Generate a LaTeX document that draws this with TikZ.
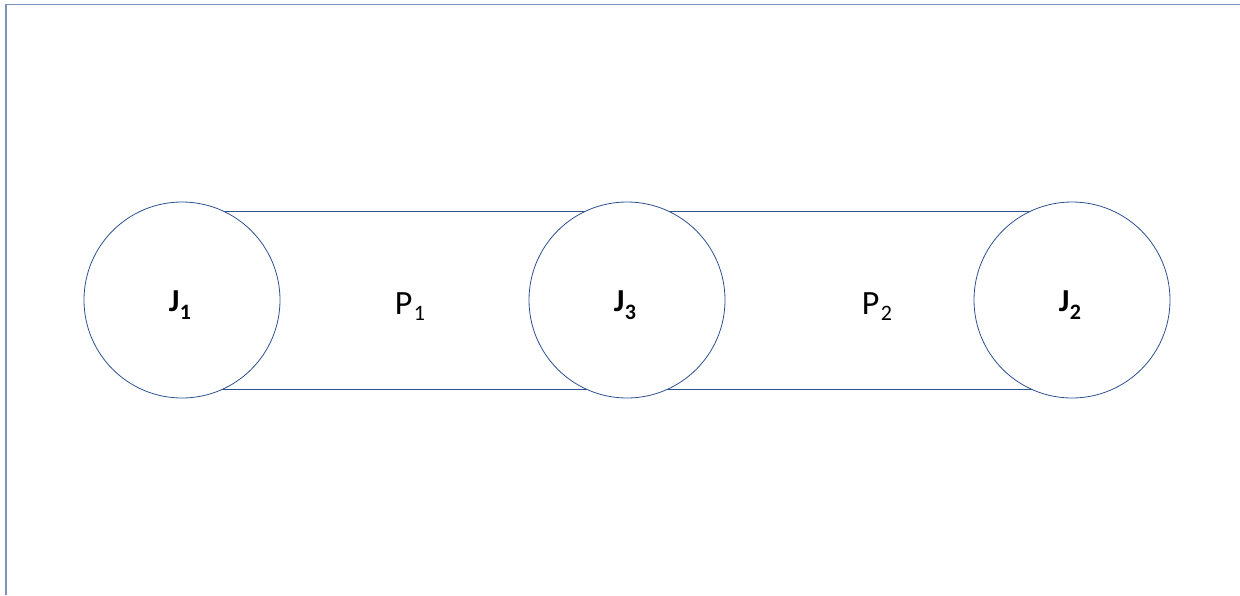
\documentclass[tikz,border=0pt]{standalone}
\usepackage{fontspec}
\setmainfont{Carlito}
\definecolor{edge}{RGB}{47,82,143}
\definecolor{frame}{RGB}{125,145,190}
\newcommand{\jlab}[1]{{\fontsize{32}{38}\selectfont\bfseries J\kern0.5pt\raisebox{-8pt}{\fontsize{22}{26}\selectfont #1}}}
\newcommand{\plab}[1]{{\fontsize{34}{40}\selectfont P\kern1.5pt\raisebox{-6pt}{\fontsize{22}{26}\selectfont #1}}}
\begin{document}
\begin{tikzpicture}[x=1pt,y=-1pt,
  joint/.style={circle,draw=edge,line width=0.8pt,fill=white,minimum size=196pt,inner sep=0pt},
  pipe/.style={draw=edge,line width=0.8pt},
  lab/.style={anchor=base,inner sep=0pt}]
\useasboundingbox (0,0) rectangle (1240,595);
\draw[frame,line width=1.6pt] (1240,4.5) -- coordinate (fc) (6,4.5) -- (6,595);
% pipes (behind the joints)
\coordinate (c1) at (182,300);
\coordinate (c3) at (627,300);
\coordinate (c2) at (1072,300);
\draw[pipe] ([yshift=-89pt]c1) -- ([yshift=-89pt]c2);
\draw[pipe] ([yshift=88.5pt]c1) -- ([yshift=88.5pt]c2);
\node[joint] (J1) at (c1) {};
\node[joint] (J3) at (c3) {};
\node[joint] (J2) at (c2) {};
\node[lab] (tJ1) at (180,311) {\jlab{1}};
\node[lab] (tJ3) at (625,311) {\jlab{3}};
\node[lab] (tJ2) at (1070,311) {\jlab{2}};
\node[lab] (tP1) at (410,314) {\plab{1}};
\node[lab] (tP2) at (877,314) {\plab{2}};
\end{tikzpicture}
\end{document}
